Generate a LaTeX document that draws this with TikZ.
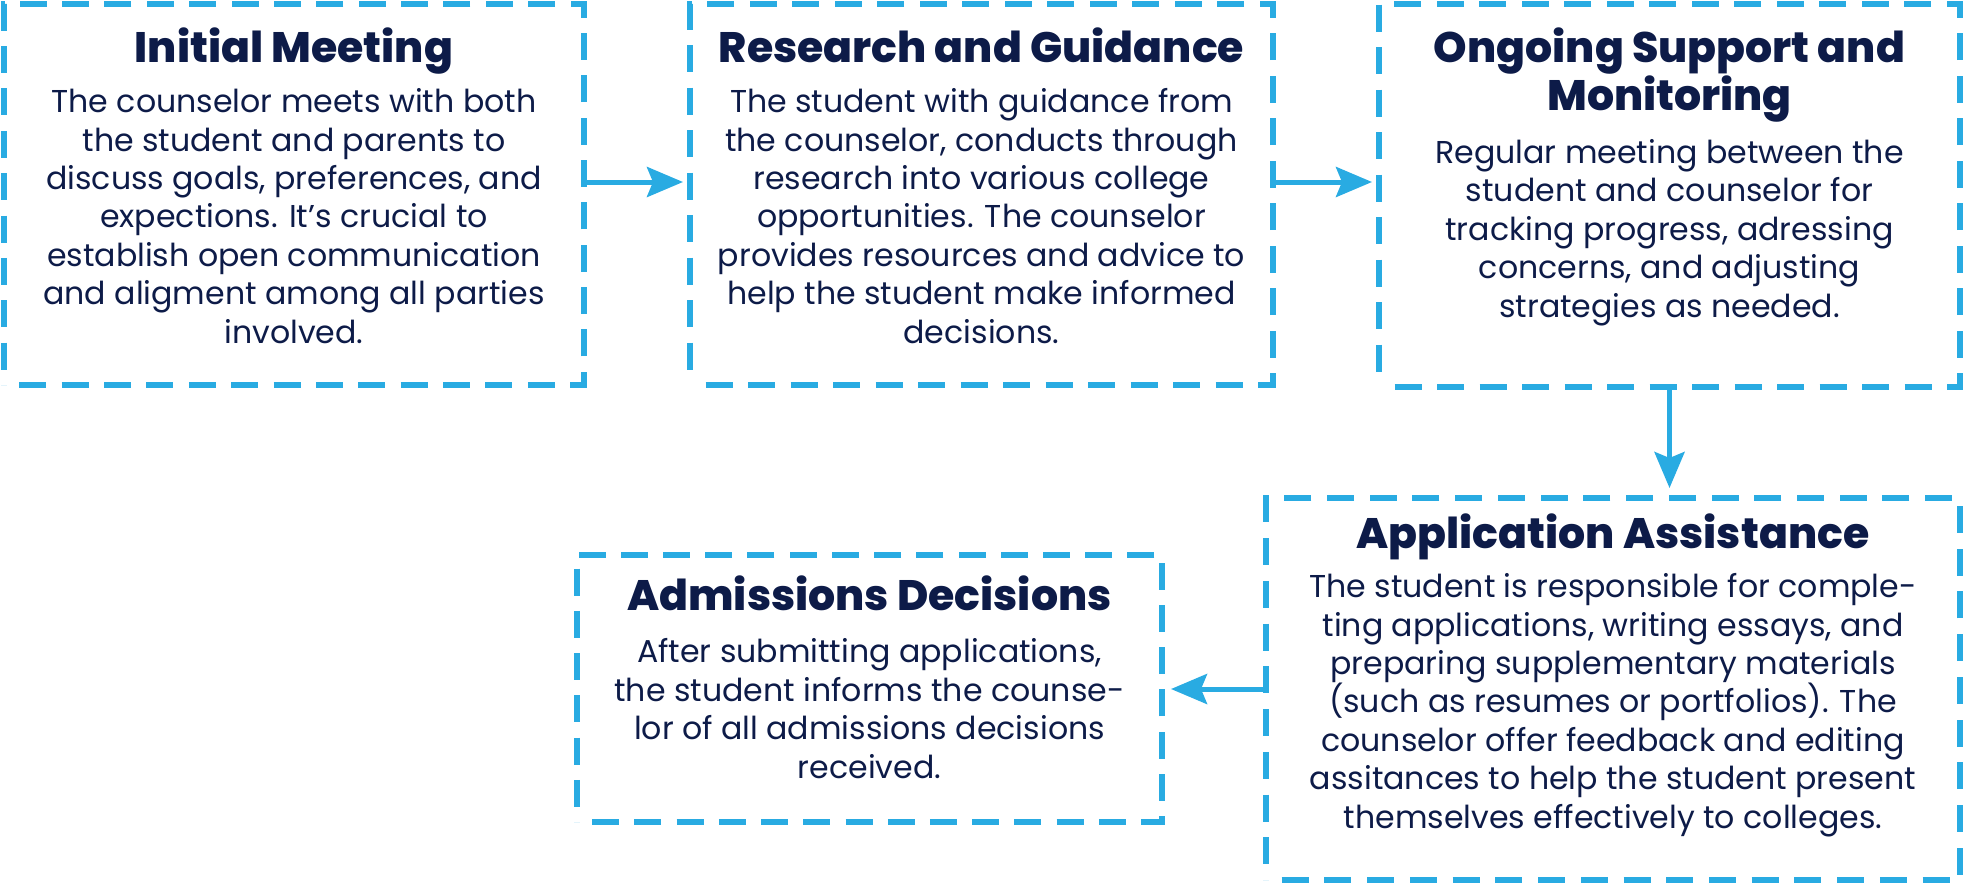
\documentclass[tikz,border=0pt]{standalone}
\usepackage{fontspec}
\setmainfont{Poppins}
\newfontfamily\ttlfont{Poppins ExtraBold}
\usetikzlibrary{arrows.meta,decorations}
\definecolor{dashblue}{HTML}{29ABE2}
\definecolor{navy}{HTML}{0D1B48}
\tikzset{
  stepbox/.style={draw=dashblue, line width=3pt, dash pattern=on 13.5pt off 7.5pt, dash expand off, inner sep=0pt},
  ttl/.style={anchor=base, align=center, text=navy, font=\fontsize{21.3}{24}\selectfont\ttlfont, inner sep=0pt},
  body/.style={anchor=base, align=center, text=navy, font=\fontsize{15.8}{19.2}\selectfont, inner sep=0pt},
  flow/.style={draw=dashblue, line width=2.5pt, -{Stealth[length=18pt,width=15pt,inset=3pt]}},
}
\begin{document}
\begin{tikzpicture}[x=0.5pt,y=-0.5pt]
\useasboundingbox (0,0) rectangle (1964,884);
% boxes
\node[stepbox, minimum width=290pt, minimum height=190.5pt] (b1) at (294,194.5) {};
\node[stepbox, minimum width=291.5pt, minimum height=190.5pt] (b2) at (981.5,194.5) {};
\node[stepbox, minimum width=290.5pt, minimum height=191.5pt] (b3) at (1669.5,195.5) {};
\node[stepbox, minimum width=347pt, minimum height=191pt] (b4) at (1613,689) {};
\node[stepbox, minimum width=292.5pt, minimum height=133.5pt] (b5) at (869.5,688.5) {};
% texts (base anchor = baseline of the last line)
\node[ttl] (t1) at (294,62) {Initial Meeting};
\node[body] (d1) at (294,343) {The counselor meets with both\\the student and parents to\\discuss goals, preferences, and\\expections. It’s crucial to\\establish open communication\\and aligment among all parties\\involved.};
\node[ttl] (t2) at (981.5,62) {Research and Guidance};
\node[body] (d2) at (981.5,343) {The student with guidance from\\the counselor, conducts through\\research into various college\\opportunities. The counselor\\provides resources and advice to\\help the student make informed\\decisions.};
\node[ttl] (t3) at (1669.5,110) {Ongoing Support and\\Monitoring};
\node[body] (d3) at (1669.5,317) {Regular meeting between the\\student and counselor for\\tracking progress, adressing\\concerns, and adjusting\\strategies as needed.};
\node[ttl] (t4) at (1613,548) {Application Assistance};
\node[body] (d4) at (1613,828) {The student is responsible for comple-\\ting applications, writing essays, and\\preparing supplementary materials\\(such as resumes or portfolios). The\\counselor offer feedback and editing\\assitances to help the student present\\themselves effectively to colleges.};
\node[ttl] (t5) at (869.5,610) {Admissions Decisions};
\node[body] (d5) at (869.5,778) {After submitting applications,\\the student informs the counse-\\lor of all admissions decisions\\received.};
% connectors
\coordinate (lvl) at (0,182);
\draw[flow, shorten >=2pt] (b1.east |- lvl) -- (b2.west |- lvl);
\draw[flow, shorten >=2pt] (b2.east |- lvl) -- (b3.west |- lvl);
\draw[flow, shorten >=3.5pt] (b3.south) -- (b4.north -| b3.south);
\draw[flow, shorten >=3pt] (b4.west) -- (b5.east |- b4.west);
\end{tikzpicture}
\end{document}
